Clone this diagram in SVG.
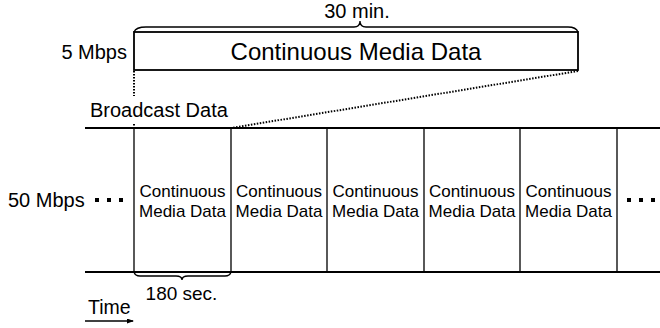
<svg xmlns="http://www.w3.org/2000/svg" width="660" height="328" viewBox="0 0 660 328">
  <style>
    text { font-family: "Liberation Sans", Arial, sans-serif; fill: #000; }
    .cell { font-size: 17px; text-anchor: middle; }
    .lbl { font-size: 20px; }
    .thin { stroke: #000; stroke-width: 1.3; fill: none; }
    .thick { stroke: #000; stroke-width: 2.2; fill: none; }
    .dot { stroke: #000; stroke-width: 2; stroke-dasharray: 1.5 1.5; fill: none; }
  </style>
  <defs>
    <marker id="arr" markerWidth="7" markerHeight="5" refX="6" refY="2.5" orient="auto" markerUnits="userSpaceOnUse">
      <path d="M0,0 L7,2.5 L0,5 Z" fill="#000"/>
    </marker>
  </defs>

  <rect width="660" height="328" fill="#fff"/>

  <!-- 5 Mbps stream -->
  <g id="stream5">
    <text class="lbl" x="127" y="59" text-anchor="end">5 Mbps</text>
    <rect x="134" y="32" width="444" height="38" class="thick" style="stroke-width:1.8"/>
    <text x="356" y="60" font-size="24" text-anchor="middle">Continuous Media Data</text>
    <path class="thin" d="M134,32 Q136,27 146,27 L354,27 Q360,27 360,21 Q360,27 366,27 L568,27 Q576,27 578,32"/>
    <text class="lbl" x="357" y="18" text-anchor="middle">30 min.</text>
  </g>

  <!-- connectors -->
  <g id="connectors">
    <path class="dot" d="M134,71 L134,96"/>
    <path class="dot" d="M134,124 L134,126"/>
    <path class="dot" d="M578,71 L231,128"/>
  </g>

  <!-- 50 Mbps broadcast -->
  <g id="broadcast">
    <text class="lbl" x="90" y="117">Broadcast Data</text>
    <text class="lbl" x="8" y="207">50 Mbps</text>
    <g fill="#000">
      <rect x="95" y="198" width="4" height="4"/>
      <rect x="107" y="198" width="4" height="4"/>
      <rect x="119" y="198" width="4" height="4"/>
      <rect x="627" y="198" width="4" height="4"/>
      <rect x="639" y="198" width="4" height="4"/>
      <rect x="651" y="198" width="4" height="4"/>
    </g>
    <path class="thick" d="M85,128 L660,128 M85,272 L660,272"/>
    <path class="thin" d="M134,128 V272 M231,128 V272 M327,128 V272 M424,128 V272 M520,128 V272 M617,128 V272"/>
  </g>

  <g id="cell1"><text class="cell" x="182.5" y="197">Continuous</text><text class="cell" x="182.5" y="217">Media Data</text></g>
  <g id="cell2"><text class="cell" x="279" y="197">Continuous</text><text class="cell" x="279" y="217">Media Data</text></g>
  <g id="cell3"><text class="cell" x="375.5" y="197">Continuous</text><text class="cell" x="375.5" y="217">Media Data</text></g>
  <g id="cell4"><text class="cell" x="472" y="197">Continuous</text><text class="cell" x="472" y="217">Media Data</text></g>
  <g id="cell5"><text class="cell" x="568.5" y="197">Continuous</text><text class="cell" x="568.5" y="217">Media Data</text></g>

  <!-- duration of one cell -->
  <g id="duration">
    <path class="thin" d="M134,272 Q135,276 140,276 L176,276 Q182,276 182,280 Q182,276 188,276 L225,276 Q230,276 231,272"/>
    <text x="181.5" y="300" font-size="19" text-anchor="middle">180 sec.</text>
  </g>

  <!-- time axis -->
  <g id="time">
    <text x="88" y="314" font-size="19.5">Time</text>
    <line x1="85" y1="321" x2="133" y2="321" class="thin" marker-end="url(#arr)"/>
  </g>
</svg>
